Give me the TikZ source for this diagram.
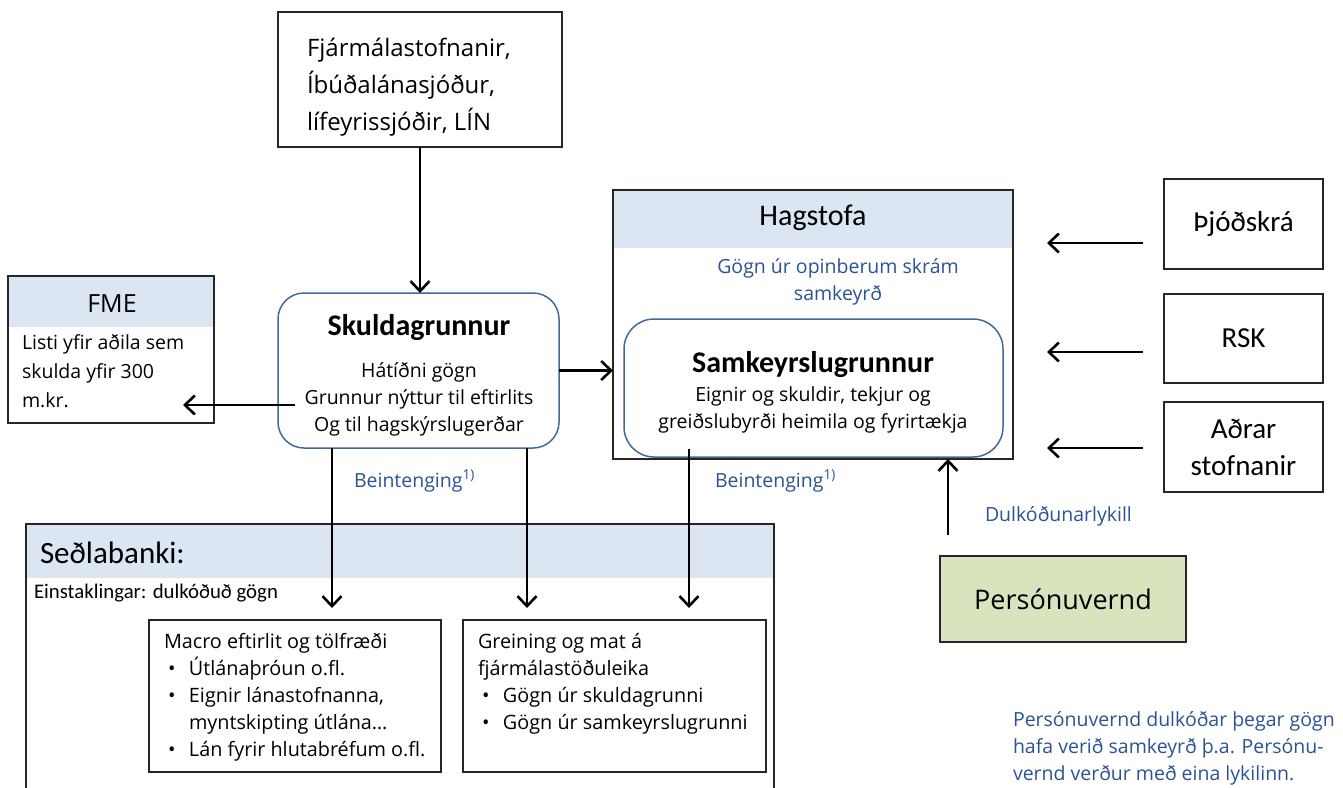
\documentclass[tikz,border=0pt]{standalone}
\usepackage{fontspec}
\setmainfont{Carlito}
\newfontfamily\segoe{Open Sans}
\usetikzlibrary{arrows.meta}

\definecolor{hdrblue}{HTML}{DCE6F2}
\definecolor{rimblue}{HTML}{41699C}
\definecolor{txtblue}{HTML}{2A5394}
\definecolor{pvgreen}{HTML}{D7E4BD}
\definecolor{rimgray}{HTML}{262626}

\newcommand{\itembul}{\hspace*{4pt}\makebox[21pt][l]{•}}

\begin{document}
\begin{tikzpicture}
  [x=1pt, y=-1pt,
   every node/.style={inner sep=0, outer sep=0},
   box/.style={draw=rimgray, line width=1.4pt, fill=white},
   rbox/.style={draw=rimblue, line width=1.5pt, fill=white, rounded corners=#1},
   hdr/.style={path picture={\fill[hdrblue] (path picture bounding box.north west) rectangle ([yshift=-#1]path picture bounding box.north east);}},
   arr/.style={line width=2.6pt, -{Straight Barb[length=10pt,width=19pt]}},
   lbl/.style={text=txtblue, font=\segoe\fontsize{19.5}{27}\selectfont}]

  \useasboundingbox (0,0) rectangle (1343,787);
  \clip (0,0) rectangle (1343,787);

  % sources (multi-line texts sit on their last baseline)
  \node[box, minimum width=284, minimum height=135] (fin) at (420,79.5) {};
  \node[anchor=base west, align=left, font=\segoe\fontsize{24}{37}\selectfont] (fintxt) at (307,130)
    {Fjármálastofnanir,\\Íbúðalánasjóður,\\lífeyrissjóðir, LÍN};

  \node[rbox=26pt, minimum width=281, minimum height=155] (sk) at (418.5,370.5) {};
  \node[anchor=base, font=\bfseries\fontsize{30}{36}\selectfont] (sktit) at (419,335) {Skuldagrunnur};
  \node[anchor=base, align=center, font=\segoe\fontsize{19.5}{27}\selectfont] (sktxt) at (419,431)
    {Hátíðni gögn\\Grunnur nýttur til eftirlits\\Og til hagskýrslugerðar};

  \node[box, hdr=51pt, minimum width=206, minimum height=147] (fme) at (111,349.5) {};
  \node[anchor=base, font=\segoe\fontsize{25}{30}\selectfont] (fmehd) at (112,312) {FME};
  \node[anchor=base west, align=left, font=\segoe\fontsize{19.5}{29}\selectfont] (fmetxt) at (22,407)
    {Listi yfir aðila sem\\skulda yfir 300\\m.kr.};

  % Hagstofa
  \node[box, hdr=58pt, minimum width=400, minimum height=269] (hag) at (813,324.5) {};
  \node[anchor=base, font=\fontsize{30}{36}\selectfont] (haghd) at (813,225) {Hagstofa};
  \node[lbl, anchor=base, align=center] (hagtxt) at (838,300) {Gögn úr opinberum skrám\\samkeyrð};
  \node[rbox=30pt, minimum width=379, minimum height=138] (sam) at (813.5,388) {};
  \node[anchor=base, font=\bfseries\fontsize{30}{36}\selectfont] (samtit) at (813,372) {Samkeyrslugrunnur};
  \node[anchor=base, align=center, font=\segoe\fontsize{19.5}{27}\selectfont] (samtxt) at (813,428)
    {Eignir og skuldir, tekjur og\\greiðslubyrði heimila og fyrirtækja};

  \node[box, minimum width=159, minimum height=90, font=\fontsize{29}{37}\selectfont] (thj) at (1243.5,224) {Þjóðskrá};
  \node[box, minimum width=159, minimum height=89, font=\fontsize{29}{37}\selectfont] (rsk) at (1243.5,338.5) {RSK};
  \node[box, minimum width=159, minimum height=90, align=center, font=\fontsize{29}{37}\selectfont] (adr) at (1243.5,447) {Aðrar\\stofnanir};

  \node[box, fill=pvgreen, minimum width=246, minimum height=86, font=\segoe\fontsize{27}{32}\selectfont] (pers) at (1063,599) {Persónuvernd};

  \node[lbl, anchor=base west] (keylbl) at (985,521) {Dulkóðunarlykill};
  \node[lbl, anchor=base west] (bt1) at (354,487) {Beintenging\textsuperscript{1)}};
  \node[lbl, anchor=base west] (bt2) at (715,487) {Beintenging\textsuperscript{1)}};
  \node[lbl, anchor=base west, align=left] (note) at (1013,780)
    {Persónuvernd dulkóðar þegar gögn\\hafa verið samkeyrð þ.a. Persónu-\\vernd verður með eina lykilinn.};

  % Sedlabanki
  \node[box, hdr=54pt, minimum width=748, minimum height=300] (sed) at (400,674) {};
  \node[anchor=base west, font=\fontsize{31}{36}\selectfont] (sedhd) at (40,563) {Seðlabanki:};
  \node[anchor=base west, font=\fontsize{20.8}{24}\selectfont] (sedsub) at (34,598) {Einstaklingar: dulkóðuð gögn};
  \node[box, minimum width=292, minimum height=152] (mac) at (295,696) {};
  \node[anchor=base west, align=left, font=\segoe\fontsize{19.8}{27}\selectfont] (mactxt) at (164,756)
    {Macro eftirlit og tölfræði\\ \itembul Útlánaþróun o.fl.\\ \itembul Eignir lánastofnanna,\\
     \hspace*{25pt}myntskipting útlána…\\ \itembul Lán fyrir hlutabréfum o.fl.};
  \node[box, minimum width=303, minimum height=152] (grn) at (614.5,696) {};
  \node[anchor=base west, align=left, font=\segoe\fontsize{19.8}{27}\selectfont] (grntxt) at (478,729)
    {Greining og mat á\\fjármálastöðuleika\\ \itembul Gögn úr skuldagrunni\\ \itembul Gögn úr samkeyrslugrunni};

  % arrows
  \coordinate (fmetip) at (183,405);
  \coordinate (in1) at (1047,243);
  \coordinate (in2) at (1047,352);
  \coordinate (in3) at (1047,448);
  \coordinate (keytail) at (948,535);
  \coordinate (d1) at (332,608);
  \coordinate (d2) at (527,608);
  \coordinate (d3) at (689,608);

  \draw[arr] (fin.south) -- (fin.south |- sk.north);
  \draw[arr] ([xshift=17pt]sk.west |- fmetip) -- (fmetip);
  \draw[arr] (sk.east) -- (sk.east -| hag.west);
  \draw[arr] ([xshift=-21pt]thj.west |- in1) -- (in1);
  \draw[arr] ([xshift=-21pt]rsk.west |- in2) -- (in2);
  \draw[arr] ([xshift=-21pt]adr.west |- in3) -- (in3);
  \draw[arr] (keytail) -- (keytail |- hag.south);
  \draw[arr] (sk.south -| d1) -- (d1);
  \draw[arr] (sk.south -| d2) -- (d2);
  \draw[arr] ([yshift=8pt]sam.south -| d3) -- (d3);
\end{tikzpicture}
\end{document}
